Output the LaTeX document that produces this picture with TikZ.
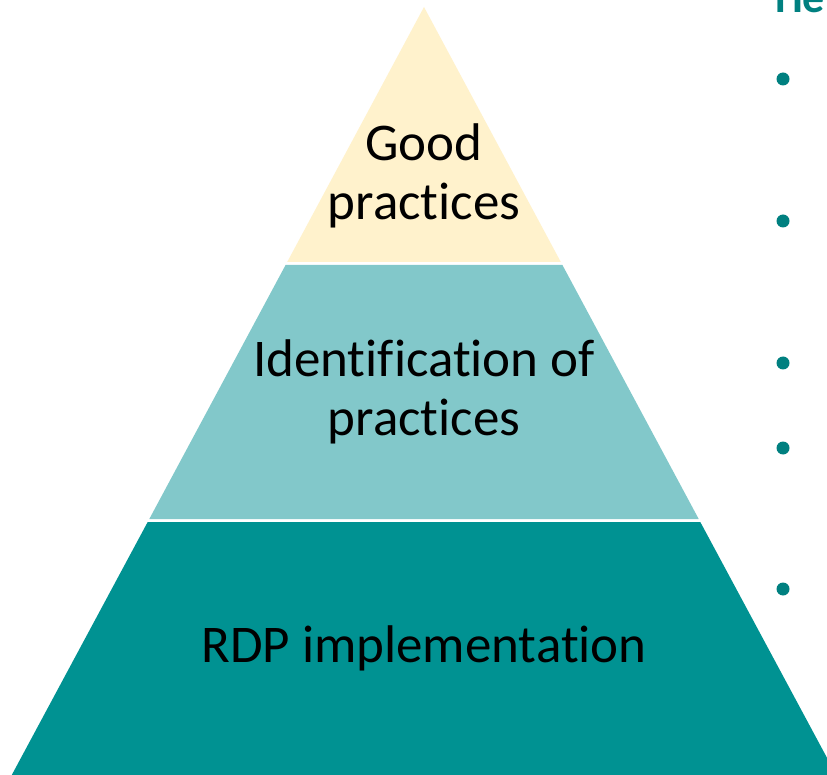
\documentclass[tikz,border=0pt]{standalone}
\usepackage{fontspec}
\setmainfont[Ligatures={NoCommon,NoRare,NoContextual},RawFeature={-liga;-dlig;-clig;-calt}]{Carlito}
\definecolor{bandtop}{RGB}{255,242,204}
\definecolor{bandmid}{RGB}{130,200,202}
\definecolor{bandlow}{RGB}{0,146,146}
\definecolor{tealtxt}{RGB}{0,128,128}
\begin{document}
\begin{tikzpicture}[x=1pt,y=-1pt,
  bandtext/.style={font=\fontsize{53}{59}\selectfont, text=black, align=center, inner sep=0pt},
  bulletdot/.style={fill=tealtxt, draw=none}]
\useasboundingbox (0,0) rectangle (827,775);
\clip (0,0) rectangle (827,775);
\fill[white] (0,0) rectangle (827,775);
% pyramid bands
\fill[bandtop] (424,7) -- (560.8,262) -- (287.2,262) -- cycle;
\fill[bandmid] (285.6,265) -- (562.4,265) -- (698.7,519) -- (149.3,519) -- cycle;
\fill[bandlow] (147.7,522) -- (700.3,522) -- (840,782) -- (8,782) -- cycle;
% labels
\node[bandtext] (good) at (424,176) {Good\\practices};
\node[bandtext] (ident) at (424,392) {Identif\kern0pt ication of\\practices};
\node[bandtext] (rdp) at (424,648) {RDP implementat\kern0pt ion};
% heading (cut off)
\node[anchor=base west, inner sep=0pt, font=\fontsize{44}{50}\selectfont\bfseries, text=tealtxt] (head) at (775,13) {He};
% bullets
\foreach \yy/\nm in {79/b1,221/b2,363/b3,448/b4,589/b5}
  \fill[bulletdot] (783,\yy) circle (6.5);
\end{tikzpicture}
\end{document}
